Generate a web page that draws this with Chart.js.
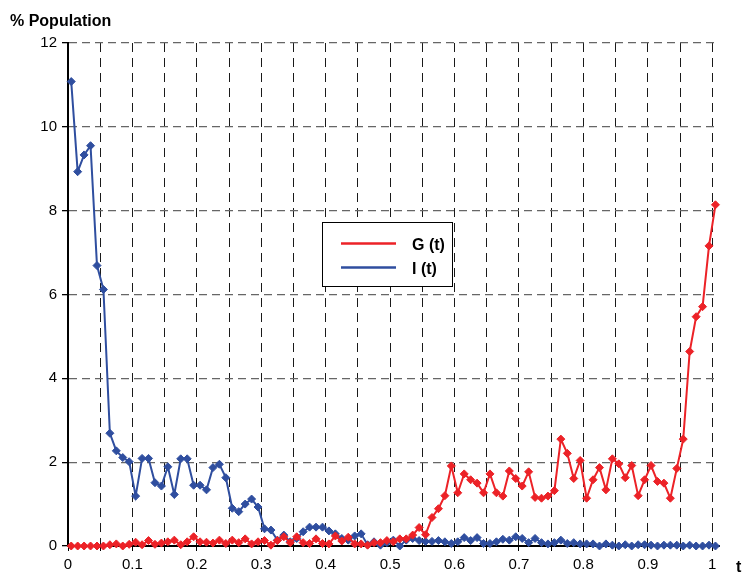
<!DOCTYPE html>
<html>
<head>
<meta charset="utf-8">
<script src="https://cdn.jsdelivr.net/npm/chart.js@4.4.1/dist/chart.umd.min.js"></script>
<style>
  html, body { margin: 0; padding: 0; background: #fff; }
  #wrap { width: 746px; height: 575px; }
</style>
</head>
<body>
<div id="wrap"><canvas id="popChart" width="746" height="575"></canvas></div>
<script>
// --- data (one sample every 0.01 of t) ---
const timeSteps = [
  0.00, 0.01, 0.02, 0.03, 0.04, 0.05, 0.06, 0.07, 0.08, 0.09,
  0.10, 0.11, 0.12, 0.13, 0.14, 0.15, 0.16, 0.17, 0.18, 0.19,
  0.20, 0.21, 0.22, 0.23, 0.24, 0.25, 0.26, 0.27, 0.28, 0.29,
  0.30, 0.31, 0.32, 0.33, 0.34, 0.35, 0.36, 0.37, 0.38, 0.39,
  0.40, 0.41, 0.42, 0.43, 0.44, 0.45, 0.46, 0.47, 0.48, 0.49,
  0.50, 0.51, 0.52, 0.53, 0.54, 0.55, 0.56, 0.57, 0.58, 0.59,
  0.60, 0.61, 0.62, 0.63, 0.64, 0.65, 0.66, 0.67, 0.68, 0.69,
  0.70, 0.71, 0.72, 0.73, 0.74, 0.75, 0.76, 0.77, 0.78, 0.79,
  0.80, 0.81, 0.82, 0.83, 0.84, 0.85, 0.86, 0.87, 0.88, 0.89,
  0.90, 0.91, 0.92, 0.93, 0.94, 0.95, 0.96, 0.97, 0.98, 0.99,
  1.00
];

const gValues = [
  0, 0, 0, 0, 0, 0, 0.03, 0.05, 0.00, 0.04,
  0.09, 0.03, 0.13, 0.04, 0.07, 0.10, 0.14, 0.03, 0.10, 0.22,
  0.10, 0.09, 0.07, 0.14, 0.06, 0.14, 0.08, 0.17, 0.05, 0.10,
  0.13, 0.02, 0.13, 0.22, 0.08, 0.22, 0.08, 0.06, 0.17, 0.06,
  0.05, 0.24, 0.12, 0.21, 0.05, 0.05, 0.02, 0.08, 0.08, 0.13,
  0.10, 0.17, 0.17, 0.26, 0.44, 0.27, 0.68, 0.89, 1.20, 1.91,
  1.27, 1.72, 1.58, 1.50, 1.27, 1.72, 1.27, 1.19, 1.79, 1.61,
  1.43, 1.77, 1.16, 1.14, 1.19, 1.32, 2.55, 2.21, 1.61, 2.04,
  1.14, 1.58, 1.87, 1.34, 2.08, 1.96, 1.63, 1.92, 1.20, 1.58,
  1.92, 1.54, 1.50, 1.14, 1.85, 2.55, 4.64, 5.47, 5.71, 7.16,
  8.14
];

const iValues = [
  11.08, 8.93, 9.33, 9.55, 6.69, 6.12, 2.69, 2.27, 2.11, 2.01,
  1.19, 2.09, 2.09, 1.51, 1.43, 1.89, 1.23, 2.08, 2.08, 1.45,
  1.45, 1.34, 1.87, 1.95, 1.63, 0.90, 0.82, 1.00, 1.12, 0.93,
  0.41, 0.38, 0.14, 0.26, 0.10, 0.18, 0.34, 0.45, 0.45, 0.45,
  0.36, 0.29, 0.18, 0.14, 0.24, 0.29, 0.03, 0.10, 0.02, 0.08,
  0.14, 0.00, 0.14, 0.18, 0.13, 0.11, 0.11, 0.13, 0.10, 0.06,
  0.10, 0.20, 0.13, 0.20, 0.06, 0.06, 0.10, 0.16, 0.14, 0.22,
  0.18, 0.08, 0.18, 0.08, 0.05, 0.08, 0.14, 0.06, 0.08, 0.05,
  0.05, 0.05, 0.00, 0.05, 0.02, 0.00, 0.03, 0.00, 0.03, 0.03,
  0.02, 0.00, 0.02, 0.02, 0.02, 0.00, 0.02, 0.00, 0.00, 0.02,
  0.00
];

const seriesLabels = ['G (t)', 'I (t)'];
const xGridSteps = [0, 0.05, 0.1, 0.15, 0.2, 0.25, 0.3, 0.35, 0.4, 0.45, 0.5,
                    0.55, 0.6, 0.65, 0.7, 0.75, 0.8, 0.85, 0.9, 0.95, 1];
const yTickLabels = [0, 2, 4, 6, 8, 10, 12];

const RED = '#ec2227';
const BLUE = '#2f4e9f';
const FONT = '"Liberation Sans", Arial, sans-serif';
// markers sit half a step to the right of each grid value in the original
const pointOffset = 0.005;

function toPoints(values) {
  return timeSteps.map((t, i) => ({ x: t + pointOffset, y: values[i] }));
}

// title, axis name and the boxed legend in the middle of the plot
const overlayText = {
  id: 'overlayText',
  afterDraw(chart) {
    const ctx = chart.ctx;
    ctx.save();
    ctx.fillStyle = '#000';
    ctx.font = 'bold 16px ' + FONT;
    ctx.textBaseline = 'alphabetic';
    ctx.textAlign = 'left';
    ctx.fillText('% Population', 10, 26);
    ctx.fillText('t', 736, 572);

    // legend box
    ctx.fillStyle = '#fff';
    ctx.fillRect(322, 222, 130, 64);
    ctx.strokeStyle = '#000';
    ctx.lineWidth = 1;
    ctx.strokeRect(322.5, 222.5, 130, 64);
    const colors = [RED, BLUE];
    const rowsY = [243.5, 267.5];
    seriesLabels.forEach((label, k) => {
      ctx.strokeStyle = colors[k];
      ctx.lineWidth = 2.5;
      ctx.beginPath();
      ctx.moveTo(341, rowsY[k]);
      ctx.lineTo(396, rowsY[k]);
      ctx.stroke();
      ctx.fillStyle = '#000';
      ctx.font = 'bold 16px ' + FONT;
      ctx.fillText(label, 412, rowsY[k] + 6);
    });
    ctx.restore();
  }
};

const ctx = document.getElementById('popChart').getContext('2d');
new Chart(ctx, {
  type: 'line',
  data: {
    datasets: [
      {
        label: seriesLabels[0],
        data: toPoints(gValues),
        borderColor: RED,
        backgroundColor: RED,
        borderWidth: 2,
        pointStyle: 'rectRot',
        pointRadius: 4,
        pointBorderWidth: 1,
        tension: 0,
        clip: 8
      },
      {
        label: seriesLabels[1],
        data: toPoints(iValues),
        borderColor: BLUE,
        backgroundColor: BLUE,
        borderWidth: 2,
        pointStyle: 'rectRot',
        pointRadius: 4,
        pointBorderWidth: 1,
        tension: 0,
        clip: 8
      }
    ]
  },
  options: {
    responsive: false,
    animation: false,
    layout: { padding: { top: 43, right: 27, left: 0, bottom: 0 } },
    plugins: { legend: { display: false }, tooltip: { enabled: false } },
    scales: {
      x: {
        type: 'linear',
        min: 0,
        max: 1.0105,
        afterBuildTicks: scale => { scale.ticks = xGridSteps.map(v => ({ value: v })); },
        afterFit: scale => { scale.height = 29; },
        grid: { color: '#1a1a1a', lineWidth: 1, tickLength: 5, tickColor: '#000' },
        border: { display: true, color: '#000', width: 2, dash: [9, 6] },
        ticks: {
          autoSkip: false,
          maxRotation: 0,
          padding: 5,
          color: '#000',
          font: { family: FONT, size: 15 },
          callback: v => {
            const r = Math.round(v * 100);
            if (r % 10 !== 0) return '';
            return r === 0 ? '0' : r === 100 ? '1' : (r / 100).toFixed(1);
          }
        }
      },
      y: {
        min: 0,
        max: 12,
        afterBuildTicks: scale => { scale.ticks = yTickLabels.map(v => ({ value: v })); },
        afterFit: scale => { scale.width = 68; },
        grid: { color: '#666', lineWidth: 1.3, tickLength: 6, tickColor: '#000' },
        border: { display: true, color: '#000', width: 2, dash: [8, 5] },
        ticks: {
          padding: 5,
          color: '#000',
          font: { family: FONT, size: 15 }
        }
      }
    }
  },
  plugins: [overlayText]
});
</script>
</body>
</html>
